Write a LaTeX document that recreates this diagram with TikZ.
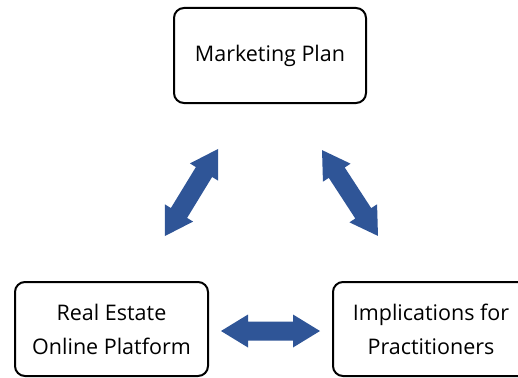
\documentclass[tikz,border=0pt]{standalone}
\usepackage{fontspec}
\setmainfont{Open Sans}
\definecolor{arrowblue}{RGB}{47,85,151}
\tikzset{
  box/.style={draw=black, line width=2pt, rounded corners=10pt, fill=white, align=center,
    font=\fontsize{21.5}{34}\selectfont, inner sep=0pt},
}
\newcommand\dblarrow[3]{%
  \begin{scope}[shift={(#1)},rotate=#2]
    \fill[arrowblue] (-#3/2,0) -- (-#3/2+27,16.5) -- (-#3/2+27,9.5) -- (#3/2-27,9.5) -- (#3/2-27,16.5)
      -- (#3/2,0) -- (#3/2-27,-16.5) -- (#3/2-27,-9.5) -- (-#3/2+27,-9.5) -- (-#3/2+27,-16.5) -- cycle;
  \end{scope}}
\begin{document}
\begin{tikzpicture}[x=1pt,y=-1pt]
\useasboundingbox (0,0) rectangle (518,377);
\clip (0,0) rectangle (518,377);
\node[box, minimum width=192pt, minimum height=95pt] (plan) at (270,55.5) {Marketing Plan};
\node[box, minimum width=193pt, minimum height=94pt] (platform) at (111.5,329) {Real Estate\\Online Platform};
\node[box, minimum width=196pt, minimum height=94pt] (impl) at (431,329) {Implications for\\Practitioners};
\coordinate (a1) at (191.5,192.5);
\coordinate (a2) at (350,193);
\coordinate (a3) at (270.5,331);
\dblarrow{a1}{58.6}{102}
\dblarrow{a2}{-56.9}{102.5}
\dblarrow{a3}{0}{99}
\end{tikzpicture}
\end{document}
